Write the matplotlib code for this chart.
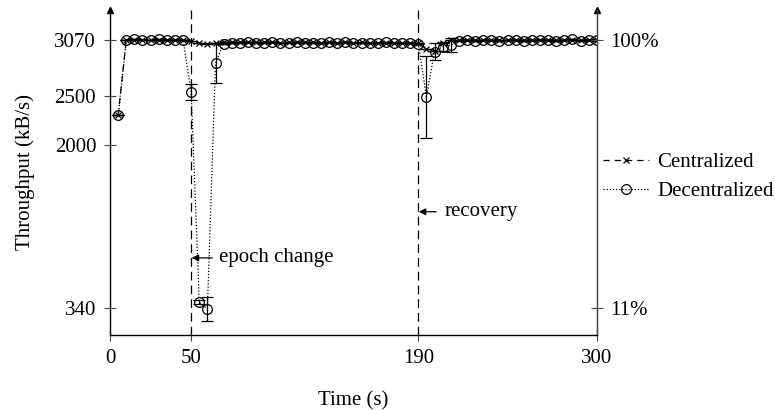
import numpy as np
import matplotlib
matplotlib.use("Agg")
import matplotlib.pyplot as plt
from matplotlib.lines import Line2D

plt.rcParams['font.family'] = ['Liberation Serif', 'DejaVu Serif']
plt.rcParams['font.size'] = 15

# time in seconds, one sample every 5 s
t = np.arange(5, 305, 5)

centralized = [2300,
               3070, 3070, 3070, 3070, 3070, 3070, 3070, 3070,
               3060, 3035, 3025, 3040,
               3045, 3050, 3045, 3050, 3045, 3050, 3045, 3040, 3045, 3050, 3045, 3045,
               3040, 3045, 3040, 3045, 3040, 3045, 3040, 3040, 3035, 3040, 3040, 3035,
               3035, 2980, 2960, 3040, 3065,
               3065, 3070, 3065, 3070, 3065, 3070, 3065, 3070, 3065,
               3070, 3065, 3070, 3065, 3065, 3070, 3065, 3070, 3065]

decentralized = [2300,
                 3070, 3075, 3065, 3070, 3075, 3070, 3065, 3070,
                 2540, 400, 330, 2835,
                 3030, 3040, 3035, 3045, 3035, 3040, 3045, 3035, 3040, 3045, 3040, 3035,
                 3040, 3045, 3040, 3050, 3035, 3040, 3035, 3040, 3045, 3040, 3035, 3040,
                 3030, 2490, 2950, 3000, 3015,
                 3060, 3065, 3060, 3070, 3065, 3060, 3065, 3070, 3060,
                 3065, 3070, 3065, 3060, 3065, 3075, 3060, 3065, 3070]

dec_err = np.zeros(len(t))
dec_err[[9, 10, 11, 12]] = [80, 20, 125, 200]
dec_err[[38, 39, 40, 41]] = [420, 90, 45, 70]
cen_err = np.zeros(len(t))

yticks = [340, 2000, 2500, 3070]
xticks = [0, 50, 190, 300]
events = [50, 190]

axcol = '#444444'

fig = plt.figure(figsize=(7.75, 4.11), dpi=100)
ax = fig.add_axes([0.142, 0.185, 0.628, 0.791])

ax.axvline(events[0], color='k', lw=0.9, ls=(0, (7, 4)))
ax.axvline(events[1], color='k', lw=0.9, ls=(0, (7, 4)))

ax.errorbar(t, centralized, yerr=cen_err, color='k', lw=0.9, ls=(0, (5, 4)),
            marker='x', ms=5, mew=0.9, capsize=4, elinewidth=0.9, capthick=0.9)
ax.errorbar(t, decentralized, yerr=dec_err, color='k', lw=0.9, ls=(0, (1, 1.5)),
            marker='o', ms=7, mfc='none', mew=0.9, capsize=4, elinewidth=0.9,
            capthick=0.9)

ax.set_xlim(0, 300)
ax.set_ylim(66, 3375)
ax.set_xticks(xticks)
ax.set_yticks(yticks)
ax.set_xlabel('Time (s)', labelpad=17)
ax.set_ylabel('Throughput (kB/s)', labelpad=14)

for s in ['left', 'bottom', 'right']:
    ax.spines[s].set_color(axcol)
    ax.spines[s].set_linewidth(1.0)
ax.spines['top'].set_visible(False)
ax.tick_params(direction='inout', length=8, width=0.8, color=axcol, pad=6)

ax2 = ax.twinx()
ax2.set_ylim(ax.get_ylim())
ax2.set_yticks([340, 3070])
ax2.set_yticklabels(['11%', '100%'])
ax2.spines['top'].set_visible(False)
ax2.spines['right'].set_color(axcol)
ax2.tick_params(direction='inout', length=8, width=0.8, color=axcol, pad=6)

# arrow heads on top of the vertical axes
ax.plot([0, 1], [1, 1], '^', color='k', ms=5, transform=ax.transAxes, clip_on=False)

ax.annotate('', xy=(50.3, 850), xytext=(63, 850),
            arrowprops=dict(arrowstyle='-|>', color='k', lw=0.9, mutation_scale=10,
                            shrinkA=0, shrinkB=0))
ax.text(67, 850, 'epoch change', va='center', ha='left')
ax.annotate('', xy=(190.3, 1320), xytext=(201, 1320),
            arrowprops=dict(arrowstyle='-|>', color='k', lw=0.9, mutation_scale=10,
                            shrinkA=0, shrinkB=0))
ax.text(206, 1320, 'recovery', va='center', ha='left')

handles = [Line2D([], [], color='k', lw=0.9, ls=(0, (5, 4)), marker='x', ms=5, mew=0.9),
           Line2D([], [], color='k', lw=0.9, ls=(0, (1, 1.5)), marker='o', ms=7,
                  mfc='none', mew=0.9)]
fig.legend(handles, ['Centralized', 'Decentralized'], loc='center left',
           bbox_to_anchor=(0.778, 0.569), frameon=False, handlelength=2.2,
           handletextpad=0.4, borderpad=0, borderaxespad=0, labelspacing=0.45)

fig.savefig('out.png', dpi=100)
